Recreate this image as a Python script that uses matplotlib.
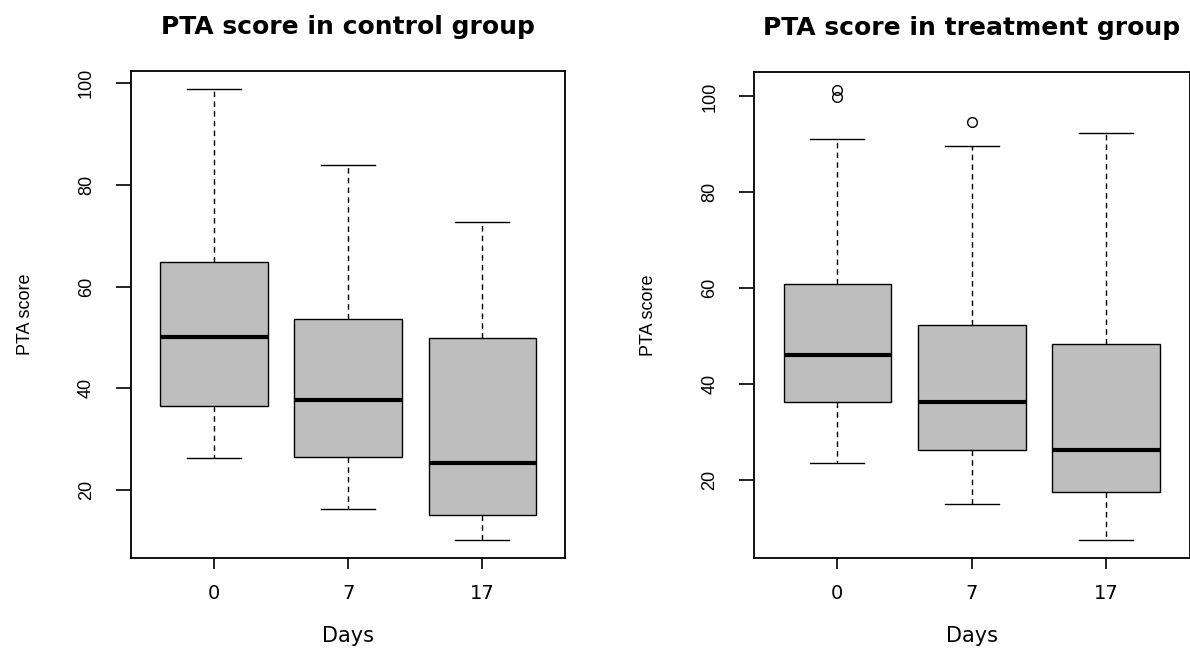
import matplotlib
matplotlib.use("Agg")
import matplotlib.pyplot as plt
from matplotlib import font_manager

# values
days = ["0", "7", "17"]

ctrl_whislo = [26.3, 16.3, 10.2]
ctrl_q1 = [36.5, 26.5, 15.1]
ctrl_med = [50.1, 37.7, 25.3]
ctrl_q3 = [64.8, 53.6, 49.9]
ctrl_whishi = [98.8, 83.9, 72.7]
ctrl_fliers = [[], [], []]

trt_whislo = [23.5, 15.0, 7.5]
trt_q1 = [36.2, 26.2, 17.5]
trt_med = [46.1, 36.2, 26.2]
trt_q3 = [60.9, 52.3, 48.4]
trt_whishi = [91.1, 89.7, 92.4]
trt_fliers = [[101.3, 99.9], [94.7], []]

installed = {f.name for f in font_manager.fontManager.ttflist}
if "Liberation Sans Narrow" in installed:
    rotated_font = ["Liberation Sans Narrow", "DejaVu Sans"]
    rot_size = 14.5
else:
    rotated_font = ["Liberation Sans", "DejaVu Sans"]
    rot_size = 13


def make_stats(lo, q1, med, q3, hi, fl):
    out = []
    for i in range(len(days)):
        out.append({"whislo": lo[i], "q1": q1[i], "med": med[i], "q3": q3[i],
                    "whishi": hi[i], "fliers": fl[i], "label": days[i]})
    return out


def draw_panel(ax, stats, title):
    ax.bxp(stats, positions=[1, 2, 3], widths=0.8, capwidths=0.4,
           patch_artist=True, showfliers=True,
           boxprops=dict(facecolor="#BEBEBE", edgecolor="black", linewidth=1.0),
           medianprops=dict(color="black", linewidth=3.0),
           whiskerprops=dict(color="black", linewidth=1.0, linestyle=(0, (4, 3))),
           capprops=dict(color="black", linewidth=1.0),
           flierprops=dict(marker="o", markerfacecolor="none",
                           markeredgecolor="black", markersize=7, markeredgewidth=1.0))
    vals = []
    for s in stats:
        vals += [s["whislo"], s["whishi"]] + list(s["fliers"])
    lo, hi = min(vals), max(vals)
    r = hi - lo
    ax.set_ylim(lo - 0.04 * r, hi + 0.04 * r)
    ax.set_xlim(0.38, 3.62)
    ax.set_yticks([20, 40, 60, 80, 100])
    ax.set_yticklabels(["20", "40", "60", "80", "100"], rotation=90,
                       va="center", family=rotated_font, fontsize=rot_size)
    ax.tick_params(axis="y", length=10.8, width=1.2, pad=15)
    ax.tick_params(axis="x", length=8, width=1.2, pad=11, labelsize=14)
    for sp in ax.spines.values():
        sp.set_linewidth(1.3)
    ax.set_title(title, fontsize=18, fontweight="bold", family="DejaVu Sans", pad=27)
    ax.set_xlabel("Days", fontsize=15, family="DejaVu Sans", labelpad=16)
    ax.set_ylabel("PTA score", fontsize=rot_size, family=rotated_font, labelpad=32)


fig = plt.figure(figsize=(11.9, 6.5), dpi=100)
ax1 = fig.add_axes([0.110, 0.1415, 0.365, 0.749])
ax2 = fig.add_axes([0.6336, 0.1415, 0.366, 0.7475])

draw_panel(ax1, make_stats(ctrl_whislo, ctrl_q1, ctrl_med, ctrl_q3, ctrl_whishi, ctrl_fliers),
           "PTA score in control group")
draw_panel(ax2, make_stats(trt_whislo, trt_q1, trt_med, trt_q3, trt_whishi, trt_fliers),
           "PTA score in treatment group")

fig.savefig("out.png", dpi=100)
